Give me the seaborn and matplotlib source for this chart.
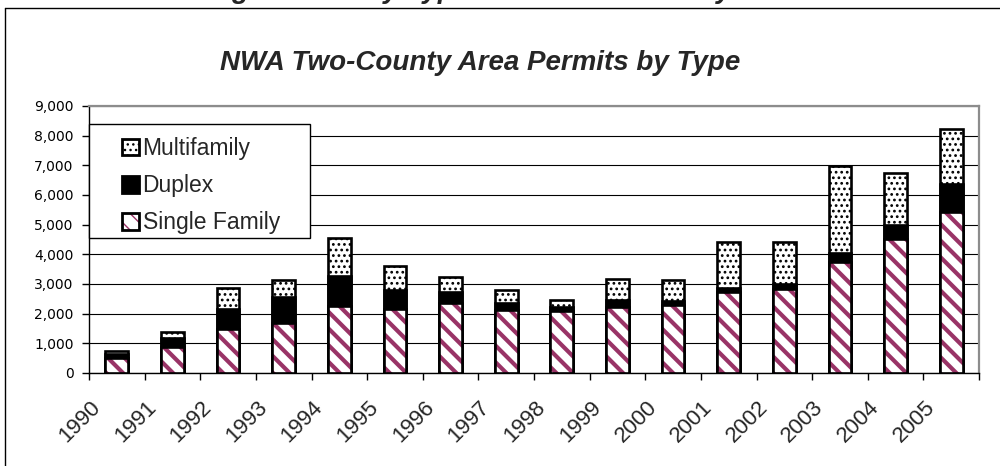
import matplotlib
matplotlib.use("Agg")
import matplotlib.pyplot as plt
import matplotlib.transforms as mtransforms
from matplotlib.patches import Patch, Rectangle
from matplotlib.lines import Line2D
from matplotlib.legend_handler import HandlerTuple
from matplotlib.ticker import FuncFormatter
import seaborn as sns
import pandas as pd

years = ['1990', '1991', '1992', '1993', '1994', '1995', '1996', '1997',
         '1998', '1999', '2000', '2001', '2002', '2003', '2004', '2005']
single_family = [500, 890, 1475, 1700, 2260, 2150, 2375, 2130,
                 2085, 2240, 2285, 2715, 2825, 3755, 4505, 5435]
duplex = [150, 280, 675, 855, 1015, 655, 340, 225,
          135, 205, 145, 145, 180, 280, 480, 920]
multifamily = [100, 210, 705, 580, 1270, 805, 535, 445,
               230, 735, 705, 1550, 1405, 2955, 1755, 1880]

series_names = ['Multifamily', 'Duplex', 'Single Family']
title = 'NWA Two-County Area Permits by Type'
cut_title = 'Building Permits by Type for the Two-County Area'

df = pd.DataFrame({'year': years, 'sf': single_family,
                   'dup': duplex, 'mf': multifamily})
df['sf_dup'] = df['sf'] + df['dup']
df['total'] = df['sf_dup'] + df['mf']

sns.set_style('white')
plt.rcParams['font.family'] = ['DejaVu Sans']

PURPLE = '#993366'
BW = 0.41
EDGE_LW = 1.9
STRIPES = '\\\\'

fig = plt.figure(figsize=(10, 4.66), dpi=100)
ax = fig.add_axes([0.089, 1 - 373 / 466, 0.89, 267 / 466])

# Multifamily (full stack, dotted)
with plt.rc_context({'hatch.linewidth': 1.2}):
    sns.barplot(data=df, x='year', y='total', order=years, color='white',
                saturation=1, width=BW, edgecolor='black', linewidth=EDGE_LW,
                hatch='...', ax=ax, zorder=2)
# Duplex (solid black)
sns.barplot(data=df, x='year', y='sf_dup', order=years, color='black',
            saturation=1, width=BW, edgecolor='black', linewidth=EDGE_LW,
            ax=ax, zorder=3)
# Single family (purple stripes)
with plt.rc_context({'hatch.linewidth': 3.0}):
    sns.barplot(data=df, x='year', y='sf', order=years, color='white',
                saturation=1, width=BW, edgecolor=PURPLE, linewidth=0,
                hatch=STRIPES, ax=ax, zorder=4)
sns.barplot(data=df, x='year', y='sf', order=years, fill=False,
            saturation=1, width=BW, edgecolor='black', linewidth=EDGE_LW,
            ax=ax, zorder=5)

ax.set_xlim(-0.5, len(years) - 0.5)
ax.set_ylim(0, 9000)
ax.set_yticks(range(0, 9001, 1000))
ax.yaxis.set_major_formatter(FuncFormatter(lambda v, p: f'{int(v):,}'))
ax.set_xlabel('')
ax.set_ylabel('')
ax.grid(axis='y', color='black', linewidth=0.8)
ax.grid(axis='x', visible=False)
ax.set_axisbelow(True)

for s in ['left', 'bottom']:
    ax.spines[s].set_color('black')
    ax.spines[s].set_linewidth(1.0)
for s in ['top', 'right']:
    ax.spines[s].set_color('#8c8c8c')
    ax.spines[s].set_linewidth(1.6)

ax.tick_params(axis='y', which='major', direction='out', length=5, width=1,
               color='black', labelsize=10, labelcolor='black', pad=6, left=True)
ax.set_xticks([i - 0.5 for i in range(len(years) + 1)], minor=True)
ax.tick_params(axis='x', which='minor', direction='out', length=5, width=1,
               color='black', bottom=True)
ax.tick_params(axis='x', which='major', length=0, pad=17, bottom=True)
ax.set_xticks(range(len(years)))
ax.set_xticklabels(years, rotation=45, ha='center', fontsize=16,
                   family='Liberation Sans')
shift = mtransforms.ScaledTranslation(-0.37, 0, fig.dpi_scale_trans)
for lbl in ax.get_xticklabels():
    lbl.set_transform(lbl.get_transform() + shift)

# Legend box
ax.add_patch(Rectangle((0, (373 - 238) / 267), (310 - 89) / 890,
                       (238 - 124) / 267, transform=ax.transAxes,
                       facecolor='white', edgecolor='black', linewidth=1.0,
                       zorder=6, clip_on=False))
with plt.rc_context({'hatch.linewidth': 1.2}):
    h_mf = Patch(facecolor='white', edgecolor='black', hatch='...', linewidth=2)
h_dup = Patch(facecolor='black', edgecolor='black', linewidth=2)
with plt.rc_context({'hatch.linewidth': 3.0}):
    h_sf_fill = Patch(facecolor='white', edgecolor=PURPLE, hatch=STRIPES, linewidth=0)
h_sf_edge = Patch(fill=False, edgecolor='black', linewidth=2)
leg = ax.legend([h_mf, h_dup, (h_sf_fill, h_sf_edge)], series_names,
                handler_map={tuple: HandlerTuple(ndivide=1)},
                loc='upper left', bbox_to_anchor=((122 - 89) / 890, (373 - 137) / 267),
                borderaxespad=0, borderpad=0, frameon=False,
                prop={'family': 'Liberation Sans', 'size': 16.5},
                handlelength=0.75, handleheight=0.75, handletextpad=0.15,
                labelspacing=0.62)
leg.set_zorder(7)

# Titles
fig.text(0.48, 1 - 63 / 466, title, ha='center', va='center', fontsize=20,
         fontweight='bold', fontstyle='italic', family='Liberation Sans')
fig.text(0.469, 1 + 2 / 466, cut_title, ha='center', va='baseline', fontsize=20,
         fontweight='bold', fontstyle='italic', family='Liberation Sans')

# Outer chart-area frame (top and left edges visible)
fig.add_artist(Line2D([5 / 1000, 5 / 1000], [0, 1 - 7.5 / 466],
                      transform=fig.transFigure, color='black', linewidth=1.0))
fig.add_artist(Line2D([5 / 1000, 1], [1 - 7.5 / 466, 1 - 7.5 / 466],
                      transform=fig.transFigure, color='black', linewidth=1.0))

fig.savefig('out.png', dpi=100)
